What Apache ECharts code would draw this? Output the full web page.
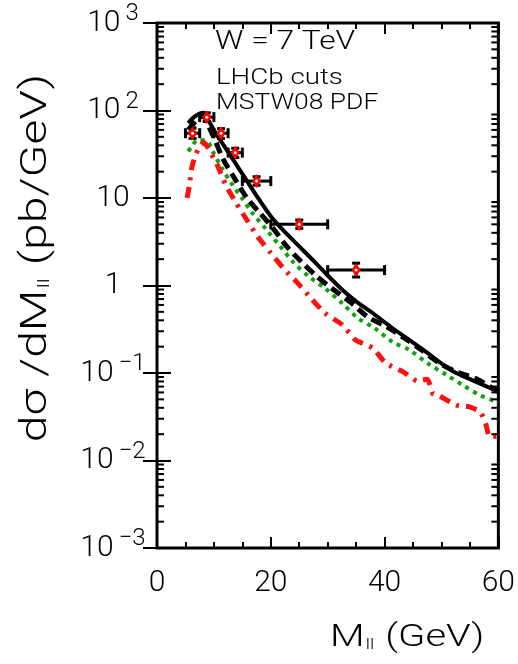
<!DOCTYPE html>
<html><head><meta charset="utf-8">
<script src="https://cdn.jsdelivr.net/npm/echarts@6/dist/echarts.min.js"></script>
<style>html,body{margin:0;padding:0;background:#fff}#c{width:518px;height:664px}</style>
</head><body><div id="c"></div>
<script>
// ---- data ----
const xRange = [0, 60];
const xTickInterval = 20;
const yRange = [0.001, 1000];
const minorMultipliers = [2, 3, 4, 5, 6, 7, 8, 9];
const minorDecades = [0.001, 0.01, 0.1, 1, 10, 100];

const solidM = [5.5, 6.5, 7.5, 8.2, 9, 10, 11, 12, 14, 16, 18, 20, 22, 25, 28, 30, 32.6, 35, 37.9, 41, 43.9, 47, 49.6, 52, 55.4, 58, 60];
const solidV = [72, 84, 92, 94, 78, 60, 47, 37.6, 23.8, 15, 9.5, 6.2, 4.4, 2.8, 1.78, 1.3, 0.89, 0.66, 0.485, 0.34, 0.25, 0.18, 0.134, 0.105, 0.083, 0.07, 0.062];

const dashM = [5.5, 6.5, 7.5, 8.2, 9, 10.2, 11.6, 13.7, 15.8, 18.1, 20.4, 22.8, 25.4, 28.2, 31, 34.2, 37, 40.4, 43.5, 46.5, 49.3, 52.6, 56.1, 59, 60];
const dashV = [60, 72, 84, 86, 68, 46, 28, 16.5, 10, 6.7, 4.5, 2.8, 1.86, 1.25, 0.9, 0.63, 0.44, 0.336, 0.25, 0.183, 0.134, 0.103, 0.086, 0.067, 0.062];

const greenM = [5.5, 6, 7.2, 8.9, 9.8, 11.4, 13.3, 14.9, 16.8, 19.3, 21.6, 23.9, 26.8, 29.5, 32.5, 35.3, 38.2, 41.4, 44.4, 47.5, 50.9, 53.7, 56.7, 59.6, 60];
const greenV = [34, 38, 46, 44, 34, 22, 14, 10, 6.7, 4.3, 2.83, 1.86, 1.25, 0.935, 0.63, 0.425, 0.327, 0.226, 0.183, 0.13, 0.095, 0.073, 0.056, 0.047, 0.046];

const redM = [5.3, 5.7, 6.1, 6.7, 7.5, 8.2, 8.9, 10.7, 12.1, 13.9, 15.8, 17.7, 20, 22.3, 24.7, 27.2, 29.5, 32.6, 34.9, 37.9, 40.2, 43.3, 45.8, 47.5, 48.5, 49.6, 52.6, 54.9, 56.8, 57.8, 58.5, 60];
const redV = [10, 14, 22, 30, 39, 43, 38, 23, 14, 8.8, 5.6, 3.6, 2.35, 1.55, 1.07, 0.70, 0.485, 0.354, 0.238, 0.193, 0.13, 0.103, 0.081, 0.085, 0.058, 0.055, 0.043, 0.041, 0.036, 0.026, 0.0186, 0.019];

const dataM = [6.25, 8.75, 11.25, 13.75, 17.5, 25, 35];
const dataV = [55, 84, 55, 33, 15.6, 5.0, 1.5];
const dataMLow = [5, 7.5, 10, 12.5, 15, 20, 30];
const dataMHigh = [7.5, 10, 12.5, 15, 20, 30, 40];
const dataVLow = [48, 75, 48, 29, 14, 4.5, 1.25];
const dataVHigh = [63, 94, 62, 37, 17.5, 5.6, 1.8];

// ---- chart ----
const FONT = "Roboto";
const zip = (a, b) => a.map((v, i) => [v, b[i]]);
const minorTicks = [];
minorDecades.forEach(d => minorMultipliers.forEach(m => minorTicks.push([xRange[0], m * d])));

const chart = echarts.init(document.getElementById('c'), null, {renderer: 'canvas'});

function yLabel(v) {
  const e = Math.round(Math.log10(v));
  if (e === 0) return '{b|1}';
  if (e === 1) return '{b|10}';
  return '{b|10}{s|' + (e < 0 ? '\u2212' + (-e) : e) + '}';
}

const xAxisBase = {
  type: 'value', min: xRange[0], max: xRange[1], interval: xTickInterval,
  axisLine: {show: false},
  axisTick: {show: true, inside: true, length: 11, lineStyle: {color: '#000', width: 2}},
  minorTick: {show: true, splitNumber: 4, length: 6, lineStyle: {color: '#000', width: 2}},
  splitLine: {show: false}, minorSplitLine: {show: false}
};
const yAxisBase = {
  type: 'log', logBase: 10, min: yRange[0], max: yRange[1],
  axisLine: {show: false},
  axisTick: {show: true, inside: true, length: 14, lineStyle: {color: '#000', width: 2}},
  splitLine: {show: false}
};
const txt = (extra) => Object.assign({fontFamily: FONT, fontWeight: 300, fill: '#000', align: 'left', verticalAlign: 'middle'}, extra);

const option = {
  animation: false,
  backgroundColor: '#fff',
  grid: {left: 157, right: 19, top: 23, bottom: 116, show: true, borderColor: '#000', borderWidth: 3, backgroundColor: 'transparent'},
  xAxis: [
    Object.assign({}, xAxisBase, {position: 'bottom',
      axisLabel: {show: true, margin: 20, color: '#000', fontSize: 30, fontFamily: FONT, fontWeight: 300}}),
    Object.assign({}, xAxisBase, {position: 'top', axisLabel: {show: false}})
  ],
  yAxis: [
    Object.assign({}, yAxisBase, {position: 'left',
      axisLabel: {show: true, margin: 44, align: 'center', formatter: yLabel,
        rich: {
          b: {fontSize: 30, fontFamily: FONT, fontWeight: 300, color: '#000'},
          s: {fontSize: 24, fontFamily: FONT, fontWeight: 300, color: '#000', padding: [0, 0, 18, 5]}
        }}}),
    Object.assign({}, yAxisBase, {position: 'right', axisLabel: {show: false}})
  ],
  series: [
    {type: 'line', data: zip(greenM, greenV), showSymbol: false, smooth: 0.3, z: 3,
      lineStyle: {color: '#12a012', width: 4, type: [4, 5], cap: 'butt'}},
    {type: 'line', data: zip(redM, redV), showSymbol: false, smooth: 0.2, z: 3,
      lineStyle: {color: '#ff1010', width: 5, type: [11, 7, 3, 7], cap: 'butt'}},
    {type: 'line', data: zip(dashM, dashV), showSymbol: false, smooth: 0.3, z: 4,
      lineStyle: {color: '#000', width: 5, type: [11, 6], cap: 'butt'}},
    {type: 'line', data: zip(solidM, solidV), showSymbol: false, smooth: 0.3, z: 5,
      lineStyle: {color: '#000', width: 4, type: 'solid'}},
    {type: 'custom', z: 6, clip: false, silent: true,
      data: minorTicks,
      renderItem: function (params, api) {
        const p0 = api.coord([xRange[0], api.value(1)]);
        const p1 = api.coord([xRange[1], api.value(1)]);
        const y = p0[1], xl = p0[0], xr = p1[0];
        const st = {stroke: '#000', lineWidth: 2};
        return {type: 'group', children: [
          {type: 'line', shape: {x1: xl, y1: y, x2: xl + 7, y2: y}, style: st},
          {type: 'line', shape: {x1: xr - 7, y1: y, x2: xr, y2: y}, style: st}
        ]};
      }},
    {type: 'custom', z: 10, clip: false, silent: true,
      encode: {x: 0, y: 1},
      data: dataM.map((m, i) => [m, dataV[i], dataMLow[i], dataMHigh[i], dataVLow[i], dataVHigh[i]]),
      renderItem: function (params, api) {
        const c = api.coord([api.value(0), api.value(1)]);
        const l = api.coord([api.value(2), api.value(1)]);
        const r = api.coord([api.value(3), api.value(1)]);
        const lo = api.coord([api.value(0), api.value(4)]);
        const hi = api.coord([api.value(0), api.value(5)]);
        const st = {stroke: '#000', lineWidth: 3};
        return {type: 'group', children: [
          {type: 'line', shape: {x1: l[0], y1: c[1], x2: r[0], y2: c[1]}, style: st},
          {type: 'line', shape: {x1: l[0], y1: c[1] - 5, x2: l[0], y2: c[1] + 5}, style: st},
          {type: 'line', shape: {x1: r[0], y1: c[1] - 5, x2: r[0], y2: c[1] + 5}, style: st},
          {type: 'line', shape: {x1: c[0], y1: lo[1], x2: c[0], y2: hi[1]}, style: st},
          {type: 'line', shape: {x1: c[0] - 4, y1: lo[1], x2: c[0] + 4, y2: lo[1]}, style: st},
          {type: 'line', shape: {x1: c[0] - 4, y1: hi[1], x2: c[0] + 4, y2: hi[1]}, style: st},
          {type: 'polygon', shape: {points: [[c[0], c[1] - 7], [c[0] + 4.5, c[1]], [c[0], c[1] + 7], [c[0] - 4.5, c[1]]]},
            style: {fill: '#ff0000'}},
          {type: 'circle', shape: {cx: c[0], cy: c[1], r: 1.5}, style: {fill: '#fff'}}
        ]};
      }}
  ],
  graphic: [
    {type: 'text', x: 215, y: 42, scaleX: 1.22, z: 1, style: txt({text: 'W = 7 TeV', fontSize: 26})},
    {type: 'text', x: 216, y: 78, scaleX: 1.26, z: 1, style: txt({text: 'LHCb cuts', fontSize: 22})},
    {type: 'text', x: 216, y: 103, scaleX: 1.2, z: 1, style: txt({text: 'MSTW08 PDF', fontSize: 22})},
    {type: 'text', x: 330, y: 638, scaleX: 1.25, style: txt({
      text: '{m|M}{sub|ll}{m| (GeV)}',
      rich: {m: {fontSize: 32, fontFamily: FONT, fontWeight: 300, fill: '#000'},
             sub: {fontSize: 15, fontFamily: FONT, fontWeight: 300, fill: '#000', padding: [14, 1, 0, 1]}}})},
    {type: 'text', x: 37, y: 258, rotation: Math.PI / 2, scaleX: 1.3, style: txt({
      text: '{m|d\u03c3 /dM}{sub|ll}{m| (pb/GeV)}', align: 'center',
      rich: {m: {fontSize: 37, fontFamily: FONT, fontWeight: 300, fill: '#000'},
             sub: {fontSize: 17, fontFamily: FONT, fontWeight: 300, fill: '#000', padding: [16, 1, 0, 1]}}})}
  ]
};
chart.setOption(option);
</script>
</body></html>
